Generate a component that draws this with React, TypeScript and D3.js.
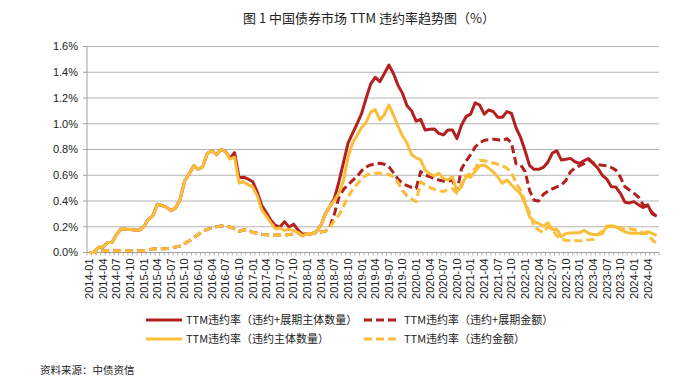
import React from 'react';
import * as d3 from 'd3';

const months: string[] = d3
  .timeMonth.range(new Date(2014, 0, 1), new Date(2024, 6, 1))
  .map(d3.timeFormat('%Y-%m'));

const yTicks = [0, 0.2, 0.4, 0.6, 0.8, 1.0, 1.2, 1.4, 1.6];

// 违约主体数量 (yellow solid)
const issuerDefault = [
  0, 0, 0.04, 0.04, 0.077, 0.077, 0.14, 0.182, 0.18, 0.178,
  0.175, 0.172, 0.2, 0.257, 0.285, 0.375, 0.365, 0.352, 0.325, 0.345,
  0.41, 0.555, 0.61, 0.675, 0.646, 0.667, 0.77, 0.79, 0.76, 0.8,
  0.785, 0.725, 0.74, 0.54, 0.55, 0.525, 0.51, 0.44, 0.33, 0.283,
  0.23, 0.185, 0.19, 0.172, 0.18, 0.17, 0.155, 0.128, 0.148, 0.145,
  0.16, 0.21, 0.3, 0.357, 0.405, 0.46, 0.56, 0.74, 0.85, 0.91,
  0.97, 1.01, 1.09, 1.11, 1.03, 1.07, 1.145, 1.07, 0.98, 0.905,
  0.85, 0.76, 0.735, 0.72, 0.64, 0.61, 0.595, 0.615, 0.576, 0.563,
  0.59, 0.473, 0.511, 0.6, 0.584, 0.63, 0.672, 0.68, 0.655, 0.625,
  0.585, 0.537, 0.563, 0.524, 0.49, 0.455, 0.38, 0.275, 0.24, 0.226,
  0.205, 0.23, 0.178, 0.18, 0.123, 0.148, 0.152, 0.154, 0.154, 0.172,
  0.15, 0.14, 0.14, 0.145, 0.205, 0.208, 0.2, 0.18, 0.16, 0.15,
  0.152, 0.15, 0.145, 0.162, 0.148, 0.131,
];

// 违约+展期主体数量 (red solid)
const issuerDefaultExt = [
  0, 0, 0.04, 0.04, 0.077, 0.077, 0.14, 0.182, 0.18, 0.178,
  0.175, 0.172, 0.2, 0.257, 0.285, 0.375, 0.365, 0.352, 0.325, 0.345,
  0.41, 0.555, 0.61, 0.675, 0.646, 0.667, 0.77, 0.79, 0.76, 0.8,
  0.785, 0.73, 0.776, 0.58, 0.585, 0.57, 0.55, 0.47, 0.365, 0.31,
  0.25, 0.21, 0.196, 0.24, 0.198, 0.22, 0.175, 0.14, 0.148, 0.145,
  0.16, 0.21, 0.3, 0.357, 0.42, 0.55, 0.7, 0.85, 0.925, 1.0,
  1.08, 1.2, 1.31, 1.36, 1.327, 1.39, 1.456, 1.39, 1.3, 1.236,
  1.14, 1.1, 1.02, 1.034, 0.951, 0.957, 0.96, 0.925, 0.913, 0.951,
  0.951, 0.886, 0.99, 1.055, 1.075, 1.163, 1.145, 1.075, 1.107, 1.094,
  1.05, 1.05, 1.094, 1.08, 0.97, 0.895, 0.79, 0.675, 0.646, 0.646,
  0.661, 0.7, 0.772, 0.79, 0.718, 0.724, 0.731, 0.705, 0.692, 0.713,
  0.73, 0.692, 0.656, 0.6, 0.57, 0.51, 0.508, 0.46, 0.39, 0.385,
  0.395, 0.37, 0.35, 0.37, 0.3, 0.283,
];

// 违约金额 (yellow dashed)
const amountDefault = [
  0, 0, 0.01, 0.012, 0.013, 0.013, 0.013, 0.013, 0.013, 0.013,
  0.013, 0.013, 0.013, 0.02, 0.028, 0.03, 0.03, 0.03, 0.035, 0.042,
  0.05, 0.07, 0.09, 0.115, 0.14, 0.165, 0.18, 0.19, 0.2, 0.205,
  0.205, 0.198, 0.185, 0.165, 0.175, 0.178, 0.156, 0.15, 0.142, 0.138,
  0.136, 0.135, 0.135, 0.136, 0.14, 0.142, 0.15, 0.13, 0.14, 0.148,
  0.152, 0.16, 0.165, 0.196, 0.25, 0.29, 0.36, 0.43, 0.49, 0.53,
  0.572, 0.6, 0.612, 0.615, 0.615, 0.61, 0.605, 0.59, 0.545, 0.48,
  0.44, 0.415, 0.395, 0.55, 0.525, 0.505, 0.49, 0.48, 0.473, 0.49,
  0.495, 0.46, 0.53, 0.585, 0.62, 0.65, 0.715, 0.713, 0.705, 0.695,
  0.685, 0.672, 0.655, 0.62, 0.54, 0.485, 0.395, 0.304, 0.2, 0.175,
  0.154, 0.2, 0.18, 0.13, 0.102, 0.095, 0.092, 0.092, 0.092, 0.092,
  0.098, 0.102, 0.14, 0.165, 0.2, 0.2, 0.2, 0.19, 0.18, 0.185,
  0.178, 0.17, 0.152, 0.145, 0.1, 0.066,
];

// 违约+展期金额 (red dashed)
const amountDefaultExt = [
  0, 0, 0.01, 0.012, 0.013, 0.013, 0.013, 0.013, 0.013, 0.013,
  0.013, 0.013, 0.013, 0.02, 0.028, 0.03, 0.03, 0.03, 0.035, 0.042,
  0.05, 0.07, 0.09, 0.115, 0.14, 0.165, 0.18, 0.19, 0.2, 0.205,
  0.205, 0.198, 0.185, 0.165, 0.175, 0.178, 0.156, 0.15, 0.142, 0.138,
  0.136, 0.135, 0.135, 0.136, 0.14, 0.142, 0.15, 0.13, 0.14, 0.148,
  0.152, 0.16, 0.165, 0.2, 0.3, 0.43, 0.49, 0.525, 0.56, 0.59,
  0.635, 0.665, 0.68, 0.69, 0.693, 0.685, 0.665, 0.62, 0.57, 0.535,
  0.52, 0.505, 0.498, 0.628, 0.6, 0.59, 0.575, 0.563, 0.555, 0.552,
  0.562, 0.475, 0.65, 0.71, 0.76, 0.82, 0.85, 0.872, 0.876, 0.88,
  0.875, 0.868, 0.885, 0.85, 0.69, 0.68, 0.63, 0.48, 0.405, 0.4,
  0.45, 0.475, 0.495, 0.51, 0.524, 0.56, 0.628, 0.655, 0.675, 0.69,
  0.718, 0.695, 0.683, 0.678, 0.674, 0.66, 0.64, 0.585, 0.51, 0.485,
  0.46, 0.43, 0.37, 0.355, 0.31, 0.28,
];

const RED = '#B3201F';
const YELLOW = '#FBBE3A';
const GRID = '#B4B4B4';
const AXIS = '#A0A0A0';
const CJK = '"Noto Sans CJK SC", "Noto Sans", sans-serif';
const NUM = '"Liberation Sans", Arial, sans-serif';

const series = [
  { name: 'TTM违约率（违约+展期主体数量）', values: issuerDefaultExt, color: RED, dash: null as string | null },
  { name: 'TTM违约率（违约+展期金额）', values: amountDefaultExt, color: RED, dash: '8 4' },
  { name: 'TTM违约率（违约主体数量）', values: issuerDefault, color: YELLOW, dash: null as string | null },
  { name: 'TTM违约率（违约金额）', values: amountDefault, color: YELLOW, dash: '8 4' },
];

export default function App() {
  const W = 700;
  const H = 383;
  const left = 87;
  const right = 659;
  const top = 46.5;
  const bottom = 252.5;

  const x = d3.scalePoint<string>().domain(months).range([left, right]).padding(0.5);
  const band = d3.scaleBand<string>().domain(months).range([left, right]);
  const y = d3.scaleLinear().domain([0, 1.6]).range([bottom, top]);

  const line = d3
    .line<number>()
    .x((_, i) => x(months[i]) as number)
    .y((d) => y(d));

  const boundaries = months.map((m) => band(m) as number).concat([right]);
  const labelMonths = months.filter((_, i) => i % 3 === 0);

  const legendPos = [
    { sx: 146, tx: 186, cy: 320 },
    { sx: 364, tx: 404, cy: 320 },
    { sx: 146, tx: 186, cy: 339 },
    { sx: 364, tx: 404, cy: 339 },
  ];

  return (
    <svg
      width={W}
      height={H}
      style={{ position: 'absolute', left: 0, top: 0, background: '#fff' }}
    >
      <rect x={0} y={0} width={W} height={H} fill="#fff" />
      <text x={369} y={22.5} textAnchor="middle" fontFamily={CJK} fontSize={13} fill="#222">
        图 1 中国债券市场 TTM 违约率趋势图（%）
      </text>

      {yTicks.map((t) => (
        <g key={t}>
          {t > 0 && (
            <line x1={left} x2={right} y1={y(t)} y2={y(t)} stroke={GRID} strokeWidth={1} />
          )}
          <line x1={left - 4} x2={left} y1={y(t)} y2={y(t)} stroke={AXIS} strokeWidth={1} />
          <text
            x={78}
            y={y(t)}
            dy="0.35em"
            textAnchor="end"
            fontFamily={NUM}
            fontSize={11}
            fill="#222"
          >
            {t.toFixed(1)}%
          </text>
        </g>
      ))}

      <line x1={left} x2={left} y1={top} y2={bottom} stroke={AXIS} strokeWidth={1} />
      <line x1={left} x2={right} y1={bottom} y2={bottom} stroke={AXIS} strokeWidth={1} />
      {boundaries.map((b, i) => (
        <line key={i} x1={b} x2={b} y1={bottom} y2={bottom + 3} stroke={AXIS} strokeWidth={0.8} />
      ))}

      {labelMonths.map((m) => (
        <text
          key={m}
          transform={`translate(${x(m)},${bottom + 6}) rotate(-90)`}
          textAnchor="end"
          dy="0.35em"
          fontFamily={NUM}
          fontSize={11}
          fill="#222"
        >
          {m}
        </text>
      ))}

      {series.map((s) => (
        <path
          key={s.name}
          d={line(s.values) as string}
          fill="none"
          stroke={s.color}
          strokeWidth={3}
          strokeDasharray={s.dash ?? undefined}
          strokeLinejoin="round"
        />
      ))}

      {series.map((s, i) => (
        <g key={'lg' + i}>
          <line
            x1={legendPos[i].sx}
            x2={legendPos[i].sx + 36}
            y1={legendPos[i].cy}
            y2={legendPos[i].cy}
            stroke={s.color}
            strokeWidth={3}
            strokeDasharray={s.dash ?? undefined}
          />
          <text
            x={legendPos[i].tx}
            y={legendPos[i].cy}
            dy="0.36em"
            fontFamily={CJK}
            fontSize={11}
            fill="#222"
          >
            {s.name}
          </text>
        </g>
      ))}

      <text x={40} y={370} dy="0.36em" fontFamily={CJK} fontSize={10.5} fill="#222">
        资料来源：中债资信
      </text>
    </svg>
  );
}
